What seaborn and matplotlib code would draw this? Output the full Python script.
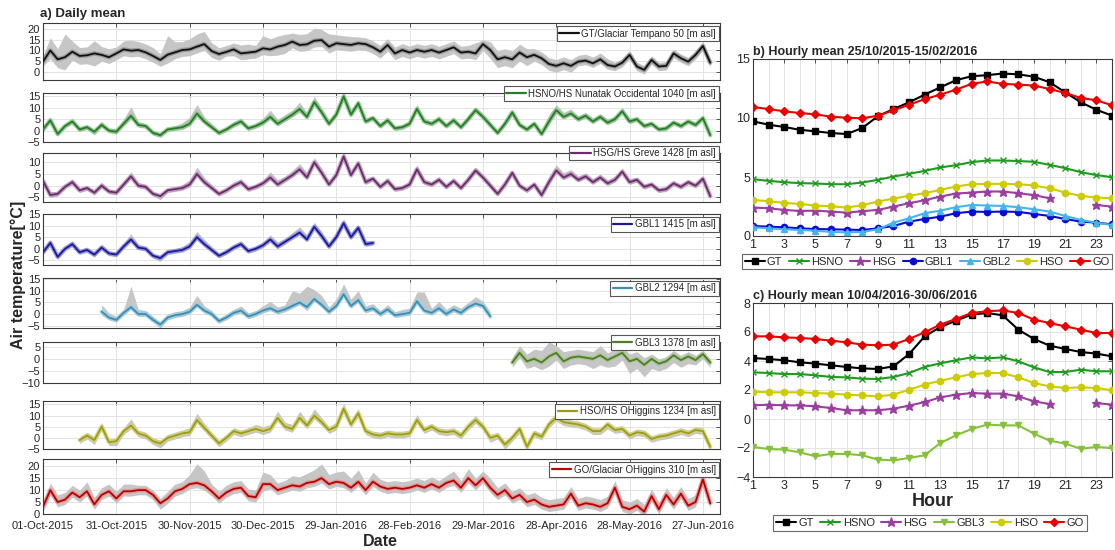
import numpy as np
import pandas as pd
import matplotlib
matplotlib.use("Agg")
import matplotlib.pyplot as plt
import matplotlib.dates as mdates
from matplotlib.lines import Line2D
import seaborn as sns

nan = float("nan")

# ---------------- data: daily means (every 3rd day from 01-Oct-2015) ----------------
START = "2015-10-01"
STEP_DAYS = 3
tick_dates = ["2015-10-01", "2015-10-31", "2015-11-30", "2015-12-30", "2016-01-29",
              "2016-02-28", "2016-03-29", "2016-04-28", "2016-05-28", "2016-06-27"]

GT = [4.7, 10.0, 5.8, 6.8, 9.4, 7.4, 7.7, 8.6, 7.9, 6.8,
      8.6, 10.5, 9.9, 10.2, 9.1, 7.4, 5.5, 8.0, 9.1, 10.2,
      10.5, 11.8, 13.0, 9.7, 8.3, 9.3, 10.5, 8.6, 9.0, 9.4,
      11.0, 10.5, 11.8, 12.6, 14.2, 12.6, 12.9, 14.6, 14.9, 11.8,
      13.4, 13.0, 12.6, 13.4, 13.0, 11.5, 9.4, 12.6, 8.6, 10.2,
      9.0, 10.2, 9.4, 10.2, 9.0, 10.2, 11.5, 9.0, 9.4, 8.6,
      13.0, 10.2, 5.8, 6.8, 5.8, 9.0, 6.8, 7.9, 6.3, 3.6,
      2.7, 3.9, 2.7, 4.7, 5.2, 3.9, 5.8, 3.1, 2.4, 4.2,
      7.9, 2.4, 0.8, 5.5, 2.4, 2.7, 8.6, 6.3, 4.7, 7.9,
      12.1, 4.2]
GT_up = [3, 6, 5, 11, 5, 4, 4, 6, 4, 4,
         3, 4, 5, 4, 4, 4, 3, 9, 5, 4,
         5, 6, 6, 4, 3, 3, 3, 4, 4, 3,
         6, 5, 5, 5, 4, 5, 5, 6, 5, 6,
         4, 4, 4, 3, 3, 3, 3, 3, 3, 3,
         3, 3, 3, 3, 3, 3, 3, 3, 3, 5,
         2, 4, 4, 4, 4, 4, 4, 3, 3, 3,
         3, 3, 3, 3, 3, 3, 3, 3, 2, 2,
         2, 2, 2, 2, 2, 2, 2, 2, 2, 2,
         2, 2]
GT_dn = [2, 4, 4, 6, 4, 4, 4, 6, 3, 3,
         3, 3, 3, 3, 3, 3, 3, 4, 3, 3,
         3, 3, 3, 3, 3, 2, 3, 3, 3, 3,
         3, 3, 4, 4, 3, 3, 3, 3, 3, 3,
         3, 3, 3, 3, 3, 3, 3, 3, 3, 3,
         3, 3, 3, 3, 3, 3, 3, 3, 3, 3,
         3, 4, 4, 4, 4, 4, 4, 3, 3, 3,
         3, 3, 3, 2, 2, 2, 2, 2, 2, 2,
         2, 2, 2, 2, 2, 2, 2, 2, 2, 2,
         2, 2]

HSNO = [0.5, 4.5, -1.5, 2.0, 4.0, 0.5, 1.5, -0.5, 2.5, 0.0,
        -0.5, 3.0, 6.5, 2.5, 2.0, -1.0, -2.0, 0.5, 1.0, 1.5,
        3.0, 7.5, 4.0, 1.5, -1.0, 0.5, 2.5, 4.0, 1.0, 2.0,
        3.5, 6.0, 3.0, 5.0, 7.0, 9.5, 6.0, 12.5, 8.0, 3.0,
        7.0, 15.0, 7.0, 12.0, 4.0, 5.5, 2.0, 4.5, 1.0, 1.5,
        3.0, 9.5, 4.0, 3.0, 5.0, 2.0, 4.5, 1.5, 5.0, 9.0,
        6.0, 2.5, -1.0, 3.0, 8.0, 2.5, 0.5, 3.0, -1.5, 4.0,
        9.0, 6.0, 7.5, 5.0, 6.5, 4.0, 6.0, 3.5, 5.0, 8.5,
        4.0, 5.0, 2.0, 3.0, 0.5, 1.0, 3.5, 2.0, 4.0, 2.5,
        5.5, -2.0]
HSNO_up = [1.5, 1.5, 1, 1, 1.5, 1, 1, 1, 1.5, 1,
           1.5, 2, 4, 1.5, 1, 1, 1, 1, 1, 2,
           3, 4, 2, 1.5, 1, 1, 1.5, 1.5, 1, 1,
           2, 3, 2, 2, 2, 3, 2, 2.5, 2, 1.5,
           2, 2, 2, 1.5, 1.5, 1, 1, 1.5, 1, 1,
           1.5, 2, 1.5, 1, 1.5, 1, 1.5, 1, 2, 1.5,
           1.5, 1.5, 1, 1.5, 1, 1, 1, 1, 1, 3,
           2.5, 2, 2, 1.5, 1.5, 1.5, 1.5, 1.5, 1.5, 1.5,
           1.5, 1, 1, 1, 1, 1, 1, 1, 1, 1,
           1, 1]
HSNO_dn = [1, 1, 1, 1, 1, 1, 1, 1.5, 1, 1,
           1, 1, 1.5, 1, 1, 1, 1, 1, 1, 1,
           1, 1.5, 1, 1, 1, 1, 1, 1, 1, 1,
           1, 1, 1, 1, 1, 1.5, 1, 1.5, 1, 1,
           1, 1.5, 1, 1.5, 1, 1, 1, 1, 1, 1,
           1, 1, 1, 1, 1, 1, 1, 1, 1, 1,
           1, 1, 1, 1, 1.5, 1, 1, 1, 1, 1.5,
           1.5, 1, 1, 1, 1, 1, 1, 1, 1, 1,
           1, 1, 1, 1, 1, 1, 1, 1, 1, 1,
           1, 1]

HSG = [2.0, -4.0, -3.5, -0.5, 1.5, -2.0, -1.0, -3.0, 0.0, -2.5,
       -3.0, 0.5, 4.0, 0.0, -0.5, -3.5, -4.5, -2.0, -1.5, -1.0,
       0.5, 5.0, 1.5, -1.0, -3.5, -2.0, 0.0, 1.5, -1.5, -0.5,
       1.0, 3.5, 0.5, 2.5, 4.5, 7.0, 3.5, 10.0, 5.5, 0.5,
       4.5, 12.5, 4.5, 9.5, 1.5, 3.0, -0.5, 2.0, -1.5, -1.0,
       0.5, 7.0, 1.5, 0.5, 2.5, -0.5, 2.0, -1.0, 2.5, 6.5,
       3.5, 0.0, -3.5, 0.5, 5.5, 0.0, -2.0, 0.5, -4.0, 1.5,
       6.5, 3.5, 5.0, 2.5, 4.0, 1.5, 3.5, 1.0, 2.5, 6.0,
       1.5, 2.5, -0.5, 0.5, -2.0, -1.5, 1.0, -0.5, 1.5, 0.0,
       3.0, -4.5]
HSG_up = [1.5, 1.5, 1, 1, 1.5, 1, 1, 1, 1.5, 1,
          1, 1.5, 2, 1.5, 1, 1, 1, 1, 1, 1.5,
          2, 3, 2, 1.5, 1, 1, 1.5, 1.5, 1, 1,
          1.5, 2.5, 2, 1.5, 2, 2.5, 2, 2, 2, 1.5,
          2, 2, 2, 1.5, 1.5, 1, 1, 1.5, 1, 1,
          1.5, 2, 1.5, 1, 1.5, 1, 1.5, 1, 2, 1.5,
          1.5, 1.5, 1, 1.5, 1, 1, 1, 1, 1, 2.5,
          2.5, 2, 2, 1.5, 1.5, 1.5, 1.5, 1.5, 1.5, 1.5,
          1.5, 1, 1, 1, 1, 1, 1, 1, 1, 1,
          1, 1]
HSG_dn = [1, 1, 1, 1, 1, 1, 1, 1, 1, 1,
          1, 1, 1, 1, 1, 1, 1.5, 1, 1, 1,
          1, 1, 1, 1, 1, 1, 1, 1, 1, 1,
          1, 1, 1, 1, 1, 1, 1, 1, 1, 1,
          1, 1.5, 1, 1, 1, 1, 1, 1, 1, 1,
          1, 1, 1, 1, 1, 1, 1, 1, 1, 1,
          1, 1, 1, 1, 1, 1, 1, 1, 1.5, 1,
          1, 1, 1, 1, 1, 1, 1, 1, 1, 1,
          1, 1, 1, 1, 1, 1, 1, 1, 1, 1,
          1, 1.5]

GBL1 = [-1.5, 2.5, -3.5, 0.0, 2.0, -1.5, -0.5, -2.5, 0.5, -2.0,
        -2.5, 1.0, 4.0, 0.5, 0.0, -3.0, -4.0, -1.5, -1.0, -0.5,
        1.0, 5.0, 2.0, -0.5, -3.0, -1.5, 0.5, 2.0, -1.0, 0.0,
        1.5, 4.0, 1.0, 3.0, 5.0, 7.0, 4.0, 9.5, 5.5, 1.0,
        5.0, 11.0, 5.0, 9.0, 2.0, 2.5] + [nan] * 46
GBL1_up = [1.5, 1.5, 1, 1, 1.5, 1, 1, 1, 1.5, 1,
           1, 1.5, 2.5, 1.5, 1, 1, 1, 1, 1, 1.5,
           2, 2.5, 2, 1.5, 1, 1, 1.5, 1.5, 1, 1,
           1.5, 2, 2, 1.5, 2, 2.5, 2, 2, 2, 1.5,
           2, 2, 2, 1.5, 1.5, 1] + [nan] * 46
GBL1_dn = [1, 1, 1, 1, 1, 1, 1, 1, 1, 1,
           1, 1, 1, 1, 1, 1, 1.5, 1, 1, 1,
           1, 1, 1, 1, 1, 1, 1, 1, 1, 1,
           1, 1, 1, 1, 1, 1, 1, 1, 1, 1,
           1, 1, 1, 1, 1, 1] + [nan] * 46

GBL2 = [nan] * 8 + [1.0, -1.5, -2.5, 0.5, 3.0, 0.0, 0.0, -2.5, -4.5, -1.5,
                    -0.5, 0.0, 1.0, 4.0, 1.5, 0.0, -3.0, -1.5, 0.5, 1.5,
                    -1.0, 0.0, 1.5, 2.5, 1.0, 2.0, 3.5, 5.0, 3.0, 6.5,
                    4.0, 1.0, 3.5, 8.5, 3.5, 6.0, 1.5, 2.5, 0.0, 2.0,
                    -0.5, 0.0, 0.5, 5.5, 1.5, 0.5, 2.5, 0.0, 2.0, 0.5,
                    3.0, 4.5, 3.5, -1.0] + [nan] * 30
GBL2_up = [nan] * 8 + [3, 2, 1.5, 1.5, 9, 2, 1.5, 1.5, 1, 1.5,
                       1.5, 1.5, 2, 4, 2, 1.5, 1, 1.5, 1.5, 2,
                       1.5, 1.5, 2, 3, 2, 2, 6.5, 4, 9, 4,
                       4, 2, 3, 4.5, 3, 4, 2, 2, 1.5, 2,
                       1.5, 2, 2, 4, 8, 2, 3, 2, 2, 2,
                       2, 3, 2, 2] + [nan] * 30
GBL2_dn = [nan] * 8 + [1.5, 1, 1, 1, 1, 1, 1, 1, 1.5, 1,
                       1, 1, 1, 1, 1, 1, 1, 1, 1, 1,
                       1, 1, 1, 1, 1, 1, 1, 1, 1.5, 1,
                       1, 1, 1, 1, 1, 1, 1, 1, 1, 1,
                       1, 1, 1, 1, 1, 1, 1, 1, 1, 1,
                       1, 1, 1, 1] + [nan] * 30

GBL3 = [nan] * 64 + [-1.5, 2.5, -1.0, 0.0, -1.5, 1.0, 2.5, -1.0, 0.5, 1.0,
                     0.5, 0.0, 1.5, -0.5, 1.0, 2.5, -1.0, 0.0, -2.5, 0.0,
                     -2.0, -1.0, 1.5, -0.5, 1.0, -0.5, 2.0, -1.5]
GBL3_up = [nan] * 64 + [2, 3, 3, 4, 5, 6, 3, 4, 3, 3,
                        3, 3, 4, 3, 3, 3, 3, 3, 3, 2,
                        2, 2, 2, 2, 2, 2, 1.5, 1.5]
GBL3_dn = [nan] * 64 + [2, 2, 3, 3, 3, 4, 3, 3, 3, 3,
                        3, 4, 4, 3, 4, 3, 5, 4, 5, 4,
                        3, 3, 3, 3, 3, 2, 2, 2]

HSO = [nan] * 5 + [-1.0, 1.0, -1.0, 5.0, -2.0, -1.5, 3.0, 5.5, 2.0, 1.0,
                   -1.5, -2.5, 0.0, 1.0, 2.0, 2.5, 8.0, 4.5, 1.0, -2.5,
                   0.0, 3.0, 2.0, 3.0, 4.0, 3.0, 4.0, 9.0, 5.0, 4.0,
                   9.0, 5.5, 10.0, 7.0, 3.5, 5.0, 13.0, 6.0, 11.0, 3.0,
                   1.5, 1.0, 2.0, 1.5, 1.5, 2.0, 8.0, 3.5, 5.0, 3.0,
                   2.5, 3.0, 1.0, 5.0, 8.0, 5.0, 0.0, 1.0, -3.0, 0.0,
                   4.0, -4.0, 2.0, 0.5, 6.0, 9.0, 7.0, 6.5, 6.0, 5.0,
                   3.0, 3.0, 6.0, 3.5, 4.0, 1.0, 2.5, 2.0, -0.5, 0.5,
                   1.0, 2.0, 3.0, 2.0, 3.5, 3.0, -4.0]
HSO_up = [nan] * 5 + [1.5, 1.5, 1.5, 2, 1.5, 1.5, 1.5, 3, 1.5, 1.5,
                      1.5, 1.5, 1.5, 1.5, 1.5, 2, 3, 2, 1.5, 1.5,
                      1.5, 1.5, 1.5, 1.5, 2, 2, 2, 3, 2, 2,
                      3, 2, 3, 2, 1.5, 2, 2.5, 2, 2, 1.5,
                      1.5, 1.5, 1.5, 1.5, 1.5, 1.5, 2.5, 1.5, 1.5, 1.5,
                      1.5, 1.5, 1.5, 2, 2, 1.5, 1.5, 1.5, 1.5, 1.5,
                      1.5, 1.5, 1.5, 1.5, 2, 2, 2, 1.5, 1.5, 1.5,
                      1.5, 1.5, 1.5, 1.5, 1.5, 1.5, 1.5, 1.5, 1.5, 1.5,
                      1.5, 1.5, 1.5, 1.5, 1.5, 1.5, 1.5]
HSO_dn = [nan] * 5 + [1.5, 1.5, 2, 1.5, 1.5, 2, 1.5, 1.5, 1.5, 1.5,
                      1.5, 2, 1.5, 1.5, 1.5, 1.5, 1.5, 1.5, 1.5, 1.5,
                      1.5, 1.5, 1.5, 1.5, 1.5, 1.5, 1.5, 1.5, 1.5, 1.5,
                      1.5, 1.5, 1.5, 1.5, 1.5, 1.5, 1.5, 1.5, 1.5, 1.5,
                      1.5, 1.5, 1.5, 1.5, 1.5, 1.5, 1.5, 1.5, 1.5, 1.5,
                      1.5, 1.5, 1.5, 1.5, 1.5, 1.5, 2, 1.5, 2, 1.5,
                      2, 1.5, 1.5, 1.5, 1.5, 1.5, 1.5, 1.5, 1.5, 1.5,
                      1.5, 1.5, 2, 1.5, 1.5, 1.5, 1.5, 1.5, 1.5, 1.5,
                      1.5, 1.5, 1.5, 1.5, 1.5, 1.5, 2]

GO = [3.0, 10.0, 5.0, 6.0, 9.0, 7.0, 9.5, 4.0, 8.0, 9.5,
      6.5, 9.5, 9.5, 10.0, 10.0, 8.0, 4.5, 6.5, 9.5, 10.5,
      12.5, 13.0, 12.0, 9.5, 6.5, 9.0, 10.5, 11.0, 7.5, 7.0,
      12.5, 12.5, 10.0, 11.0, 12.0, 11.5, 13.0, 13.5, 15.0, 12.5,
      13.5, 13.0, 11.0, 13.5, 10.0, 13.5, 11.5, 10.5, 11.0, 10.5,
      11.0, 12.0, 11.0, 12.5, 11.0, 13.0, 14.0, 11.0, 15.0, 12.0,
      15.0, 11.0, 8.0, 10.0, 6.5, 8.0, 5.0, 6.0, 4.0, 3.0,
      3.5, 4.0, 8.5, 3.5, 4.5, 4.0, 3.0, 4.5, 11.0, 3.0,
      2.0, 3.5, 1.0, 7.5, 2.0, 8.0, 4.0, 8.5, 3.5, 5.0,
      14.5, 4.5]
GO_up = [2, 3, 3, 3, 3, 3, 4, 3, 3, 3,
         3, 3, 3, 2, 2, 2, 2, 3, 3, 3,
         4, 8, 6, 3, 3, 3, 3, 3, 3, 3,
         5, 4, 3, 3, 4, 4, 4, 5, 6, 4,
         4, 5, 4, 5, 3, 4, 3, 3, 3, 3,
         3, 3, 3, 3, 3, 3, 4, 3, 4, 3,
         3, 4, 3, 3, 3, 3, 3, 3, 3, 3,
         3, 3, 3, 3, 3, 3, 3, 3, 3, 3,
         3, 3, 3, 3, 3, 3, 3, 3, 3, 3,
         3, 2]
GO_dn = [2, 2, 2, 2, 2, 2, 2, 2, 2, 2,
         2, 2, 2, 2, 2, 2, 2.5, 2, 2, 2,
         2, 2, 2, 2, 2, 2, 2, 2, 2, 2,
         3, 2, 2, 2, 2, 2, 2, 2, 2, 2,
         2, 2, 2, 2, 2, 2, 2, 2, 2, 2,
         2, 2, 2, 2, 2, 2, 2, 2, 2, 2,
         2, 2, 2, 2, 2, 2, 2, 2, 2, 2,
         2, 2, 2, 2, 2, 2, 2, 2, 2, 2,
         2, 2, 2, 2, 2, 2, 2, 2, 2, 2,
         2, 2]

daily_labels = ["GT/Glaciar Tempano 50 [m asl]",
                "HSNO/HS Nunatak Occidental 1040 [m asl]",
                "HSG/HS Greve 1428 [m asl]",
                "GBL1 1415 [m asl]",
                "GBL2 1294 [m asl]",
                "GBL3 1378 [m asl]",
                "HSO/HS OHiggins 1234 [m asl]",
                "GO/Glaciar OHiggins 310 [m asl]"]

# ---------------- data: hourly means ----------------
hours = list(range(1, 25))
GT_b = [9.72, 9.43, 9.24, 9.0, 8.87, 8.73, 8.64, 9.15, 10.15, 10.76, 11.33, 11.98,
        12.6, 13.2, 13.54, 13.63, 13.77, 13.7, 13.5, 13.03, 12.18, 11.33, 10.7, 10.2]
HSNO_b = [4.82, 4.67, 4.56, 4.48, 4.45, 4.39, 4.39, 4.53, 4.76, 5.04, 5.27, 5.52,
          5.81, 6.0, 6.26, 6.4, 6.4, 6.35, 6.29, 6.03, 5.75, 5.41, 5.16, 4.99]
HSG_b = [2.41, 2.35, 2.21, 2.12, 2.15, 2.07, 1.98, 2.1, 2.21, 2.49, 2.78, 3.03,
         3.34, 3.6, 3.68, 3.77, 3.77, 3.63, 3.46, 3.2, nan, nan, 2.63, 2.49]
GBL1_b = [0.85, 0.79, 0.74, 0.65, 0.59, 0.57, 0.54, 0.51, 0.65, 0.85, 1.22, 1.44,
          1.64, 1.93, 2.07, 2.04, 2.07, 2.04, 1.87, 1.7, 1.44, 1.22, 1.13, 0.99]
GBL2_b = [0.74, 0.65, 0.57, 0.51, 0.45, 0.34, 0.31, 0.34, 0.57, 1.13, 1.5, 1.93,
          2.15, 2.44, 2.63, 2.58, 2.55, 2.44, 2.27, 2.07, 1.7, 1.36, 1.13, 0.93]
HSO_b = [3.06, 2.95, 2.8, 2.72, 2.58, 2.52, 2.41, 2.61, 2.92, 3.17, 3.4, 3.63,
         3.91, 4.19, 4.39, 4.42, 4.42, 4.39, 4.28, 4.05, 3.68, 3.4, 3.26, 3.2]
GO_b = [10.93, 10.76, 10.57, 10.42, 10.31, 10.11, 10.03, 9.97, 10.2, 10.65, 11.13, 11.6,
        11.98, 12.4, 12.89, 13.1, 12.89, 12.83, 12.75, 12.46, 12.12, 11.7, 11.5, 11.08]

GT_c = [4.2, 4.14, 4.05, 3.91, 3.82, 3.7, 3.59, 3.49, 3.45, 3.63, 4.48, 5.7,
        6.34, 6.78, 7.2, 7.31, 7.15, 6.16, 5.52, 5.06, 4.83, 4.62, 4.51, 4.32]
HSNO_c = [3.22, 3.17, 3.1, 3.1, 3.01, 2.9, 2.87, 2.78, 2.76, 2.9, 3.17, 3.59,
          3.84, 4.05, 4.25, 4.18, 4.25, 3.98, 3.56, 3.24, 3.24, 3.4, 3.29, 3.29]
HSG_c = [0.94, 0.99, 0.94, 0.94, 0.87, 0.76, 0.6, 0.6, 0.6, 0.71, 0.92, 1.17,
         1.49, 1.68, 1.79, 1.75, 1.75, 1.56, 1.22, 1.03, nan, nan, 1.1, 0.99]
GBL3_c = [-1.93, -2.07, -2.11, -2.3, -2.57, -2.41, -2.41, -2.5, -2.8, -2.85, -2.69, -2.5,
          -1.66, -1.13, -0.69, -0.39, -0.44, -0.44, -1.01, -1.49, -1.7, -2.05, -1.93, -2.0]
HSO_c = [1.89, 1.84, 1.84, 1.84, 1.79, 1.75, 1.68, 1.63, 1.56, 1.68, 2.02, 2.37,
         2.64, 2.87, 3.1, 3.17, 3.17, 2.87, 2.48, 2.25, 2.14, 2.18, 2.14, 1.98]
GO_c = [5.7, 5.7, 5.63, 5.59, 5.52, 5.4, 5.29, 5.13, 5.08, 5.13, 5.52, 5.98,
        6.51, 6.9, 7.31, 7.43, 7.49, 7.31, 6.85, 6.62, 6.39, 6.16, 5.93, 5.93]

# ---------------- style ----------------
sns.set_theme(style="white")
plt.rcParams["font.family"] = ["Liberation Sans", "DejaVu Sans"]
TXT = "#262626"
GRID = "#e3e3e3"
SPINE = "#3a3a3a"

W, H = 1115, 550
fig = plt.figure(figsize=(W / 100, H / 100), dpi=100)


def rect(x0, y0, x1, y1):
    return [x0 / W, 1 - y1 / H, (x1 - x0) / W, (y1 - y0) / H]


def style_axes(ax, labelsize=8):
    for s in ax.spines.values():
        s.set_color(SPINE)
        s.set_linewidth(0.8)
    ax.tick_params(direction="in", top=True, right=True, length=3, width=0.6,
                   colors=SPINE, labelcolor=TXT, labelsize=labelsize, pad=2)
    ax.grid(True, color=GRID, lw=0.7)
    ax.set_axisbelow(True)


# ---------------- left: daily panels ----------------
daily = [
    (GT, GT_up, GT_dn, "#111111", "#8a8a8a", (-4, 23), [0, 5, 10, 15, 20], (23, 80), 0.97),
    (HSNO, HSNO_up, HSNO_dn, "#2a7a2a", "#7cc47c", (-5, 16.5), [-5, 0, 5, 10, 15], (93, 142), 1.17),
    (HSG, HSG_up, HSG_dn, "#6a2c6a", "#b68db6", (-7, 14), [-5, 0, 5, 10], (153, 202), 1.18),
    (GBL1, GBL1_up, GBL1_dn, "#1b1b9a", "#8282d6", (-7, 15), [-5, 0, 5, 10, 15], (214, 265), 0.97),
    (GBL2, GBL2_up, GBL2_dn, "#3d8db0", "#94cde6", (-6, 15.5), [-5, 0, 5, 10, 15], (278, 328), 0.97),
    (GBL3, GBL3_up, GBL3_dn, "#4d7d28", "#a3c585", (-10, 7), [-10, -5, 0, 5], (342, 383), 1.2),
    (HSO, HSO_up, HSO_dn, "#9c9c18", "#d6d66e", (-5, 16.5), [-5, 0, 5, 10, 15], (401, 449), 0.97),
    (GO, GO_up, GO_dn, "#b80000", "#e88a8a", (0, 23), [0, 5, 10, 15, 20], (459, 514), 0.97),
]
x0 = mdates.date2num(pd.Timestamp(START))
tick_nums = [mdates.date2num(pd.Timestamp(t)) for t in tick_dates]
for i, (mean, up, dn, col, halo, ylim, yt, (yt0, yt1), leg_y) in enumerate(daily):
    ax = fig.add_axes(rect(43, yt0, 720, yt1))
    dates = pd.date_range(START, periods=len(mean), freq=f"{STEP_DAYS}D")
    m = np.asarray(mean, float)
    lo = m - np.asarray(dn, float)
    hi = m + np.asarray(up, float)
    ax.fill_between(dates, lo, hi, color="#c6c6c6", lw=0, zorder=1)
    df = pd.DataFrame({"date": dates, "T": m}).dropna()
    sns.lineplot(data=df, x="date", y="T", ax=ax, color=halo, lw=3.2, alpha=0.75,
                 estimator=None, zorder=2)
    sns.lineplot(data=df, x="date", y="T", ax=ax, color=col, lw=1.3,
                 estimator=None, zorder=3)
    ax.set_xlim(x0, x0 + 277)
    ax.set_ylim(*ylim)
    ax.set_yticks(yt)
    ax.set_xticks(tick_nums)
    ax.set_xlabel("")
    ax.set_ylabel("")
    style_axes(ax, labelsize=8)
    if i < len(daily) - 1:
        ax.tick_params(labelbottom=False)
    else:
        ax.xaxis.set_major_formatter(mdates.DateFormatter("%d-%b-%Y"))
        ax.tick_params(axis="x", pad=5)
    h = [Line2D([], [], color=col, lw=1.6)]
    leg = ax.legend(h, [daily_labels[i]], loc="upper right", bbox_to_anchor=(1.0, leg_y),
                    fontsize=7, frameon=True, fancybox=False, handlelength=2.0,
                    handletextpad=0.3, borderpad=0.25, borderaxespad=0.15)
    leg.get_frame().set_edgecolor("#555555")
    leg.get_frame().set_linewidth(0.8)
    leg.get_frame().set_alpha(1)

fig.text(40 / W, 1 - 14 / H, "a) Daily mean", fontsize=9.5, fontweight="bold",
         color=TXT, va="center", ha="left")
fig.text(18 / W, 1 - 275 / H, "Air temperature[°C]", fontsize=11.5, fontweight="bold",
         color=TXT, rotation=90, va="center", ha="center")
fig.text(380 / W, 1 - 541 / H, "Date", fontsize=11.5, fontweight="bold",
         color=TXT, va="center", ha="center")


# ---------------- right: hourly panels ----------------
def runs(x, y):
    x = np.asarray(x)
    y = np.asarray(y, float)
    ok = ~np.isnan(y)
    out, start = [], None
    for k in range(len(y) + 1):
        if k < len(y) and ok[k]:
            if start is None:
                start = k
        elif start is not None:
            out.append((x[start:k], y[start:k]))
            start = None
    return out


def hourly(ax, series, ylim, yticks, title, leg_xy):
    handles, labels = [], []
    for name, vals, col, mk, ms in series:
        for xs, ys in runs(hours, vals):
            sns.lineplot(x=xs, y=ys, ax=ax, color=col, lw=1.5, marker=mk, markersize=ms,
                         markeredgecolor=col, markerfacecolor=col, markeredgewidth=1.0,
                         estimator=None, zorder=3)
        handles.append(Line2D([], [], color=col, lw=1.5, marker=mk, markersize=ms,
                              markeredgecolor=col, markerfacecolor=col))
        labels.append(name)
    ax.set_xlim(1, 24)
    ax.set_ylim(*ylim)
    ax.set_xticks(list(range(1, 24, 2)))
    ax.set_xticks(list(range(1, 25)), minor=True)
    ax.set_yticks(yticks)
    style_axes(ax, labelsize=9)
    ax.grid(True, which="minor", axis="x", color=GRID, lw=0.7)
    ax.tick_params(which="minor", length=0)
    ax.set_title(title, loc="left", fontsize=9, fontweight="bold", color=TXT, pad=3)
    leg = ax.legend(handles, labels, loc="center", bbox_to_anchor=leg_xy, ncol=len(labels),
                    fontsize=8, frameon=True, fancybox=False, handlelength=1.8,
                    handletextpad=0.2, columnspacing=0.6, borderpad=0.25)
    leg.get_frame().set_edgecolor("#444444")
    leg.get_frame().set_linewidth(0.8)


C_GT, C_HSNO, C_HSG = "#000000", "#1e9a1e", "#9a3fa0"
C_GBL1, C_GBL2, C_HSO, C_GO, C_GBL3 = "#0a0ad8", "#45b4ee", "#cccc00", "#ea0000", "#86c13a"

axb = fig.add_axes(rect(753, 59, 1112, 236))
hourly(axb, [("GT", GT_b, C_GT, "s", 4), ("HSNO", HSNO_b, C_HSNO, "x", 4),
             ("HSG", HSG_b, C_HSG, "*", 6.5), ("GBL1", GBL1_b, C_GBL1, "o", 4.5),
             ("GBL2", GBL2_b, C_GBL2, "^", 5), ("HSO", HSO_b, C_HSO, "o", 4.5),
             ("GO", GO_b, C_GO, "D", 4.5)],
       (0, 15), [0, 5, 10, 15], "b) Hourly mean 25/10/2015-15/02/2016", (0.485, -0.145))
axb.set_xlabel("")
axb.set_ylabel("")

axc = fig.add_axes(rect(753, 303, 1112, 477))
hourly(axc, [("GT", GT_c, C_GT, "s", 4), ("HSNO", HSNO_c, C_HSNO, "x", 4),
             ("HSG", HSG_c, C_HSG, "*", 6.5), ("GBL3", GBL3_c, C_GBL3, "v", 5),
             ("HSO", HSO_c, C_HSO, "o", 4.5), ("GO", GO_c, C_GO, "D", 4.5)],
       (-4, 8), [-4, -2, 0, 2, 4, 6, 8], "c) Hourly mean 10/04/2016-30/06/2016", (0.493, -0.265))
axc.set_ylabel("")
axc.set_xlabel("Hour", fontsize=13, fontweight="bold", color=TXT, labelpad=1)

fig.savefig("out.png", dpi=100)
